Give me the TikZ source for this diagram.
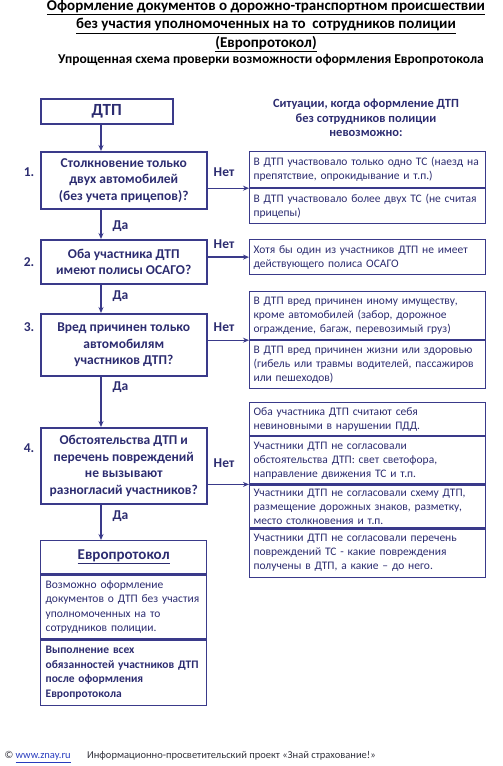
\documentclass[tikz,border=0pt]{standalone}
\usepackage{fontspec}
\setmainfont{Carlito}
\usetikzlibrary{arrows.meta}

\definecolor{navy}{RGB}{44,44,112}
\definecolor{boxline}{RGB}{58,58,138}
\definecolor{linkblue}{RGB}{40,60,190}
\definecolor{footgray}{RGB}{50,50,60}

\newcommand{\askfont}{\bfseries\fontsize{13.5}{16.5}\selectfont}
\newcommand{\casefont}{\fontsize{11.5}{14}\selectfont}
\newcommand{\eurofont}{\fontsize{11.5}{14.5}\selectfont}

\begin{document}
\begin{tikzpicture}[x=1pt, y=-1pt]
        \tikzstyle{question}=[draw=boxline, line width=1.5pt, text=navy, anchor=north west, minimum width=166pt, inner sep=2pt, align=center, font=\askfont]
        \tikzstyle{case}=[draw=boxline, line width=1.2pt, text=navy, anchor=north west, minimum width=236pt, text width=228pt, inner xsep=4pt, inner ysep=1pt, align=left, font=\casefont]
        \tikzstyle{euro}=[draw=boxline, line width=1.3pt, text=navy, anchor=north west, minimum width=166pt, text width=156pt, inner xsep=5pt, inner ysep=1pt, align=left, font=\eurofont]
        \tikzstyle{arr}=[boxline, line width=1.4pt, -{Stealth[length=6pt, width=5pt]}]
        \tikzstyle{tag}=[text=navy, font=\askfont]
        \useasboundingbox (0,0) rectangle (503,766);

        % Titles
        \node[font=\bfseries\fontsize{15}{18.5}\selectfont, align=center] (title) at (266,26)
            {\underline{Оформление документов о дорожно-транспортном происшествии}\\
             \underline{без участия уполномоченных на то\ \ сотрудников полиции}\\
             \underline{(Европротокол)}};
        \node[font=\bfseries\fontsize{13.5}{15}\selectfont] (subtitle) at (271,60)
            {Упрощенная схема проверки возможности оформления Европротокола};

        % Left column: checks
        \node[question, minimum width=132pt, minimum height=25pt, font=\bfseries\fontsize{17}{20}\selectfont] (dtp) at (40,98) {ДТП};
        \node[question, minimum height=57pt] (q1) at (40,151) {Столкновение только\\ двух автомобилей\\ (без учета прицепов)?};
        \node[question, minimum height=44pt] (q2) at (40,239) {Оба участника ДТП\\ имеют полисы ОСАГО?};
        \node[question, minimum height=62pt] (q3) at (40,313) {Вред причинен только\\ автомобилям\\ участников ДТП?};
        \node[question, minimum height=76pt] (q4) at (40,427) {Обстоятельства ДТП и\\ перечень повреждений\\ не вызывают\\ разногласий участников?};

        % Europrotocol
        \node[euro, minimum height=33pt, align=center, font=\bfseries\fontsize{15}{17}\selectfont] (euH) at (40,540) {\underline{Европротокол}};
        \node[euro, minimum height=64pt] (euA) at (euH.south west) {Возможно оформление\\ документов о ДТП без участия\\ уполномоченных на то\\ сотрудников полиции.};
        \node[euro, minimum height=65pt, font=\bfseries\eurofont] (euB) at (euA.south west) {Выполнение всех\\ обязанностей участников ДТП\\ после оформления\\ Европротокола};

        % Right column: cases
        \node[text=navy, align=center, font=\bfseries\fontsize{12.5}{14.5}\selectfont] (sitHead) at (366,118)
            {Ситуации, когда оформление ДТП\\ без сотрудников полиции\\ невозможно:};
        \node[case, minimum height=36pt] (g1a) at (249,151) {В ДТП участвовало только одно ТС (наезд на\\ препятствие, опрокидывание и т.п.)};
        \node[case, minimum height=35pt] (g1b) at (g1a.south west) {В ДТП участвовало более двух ТС (не считая\\ прицепы)};
        \node[case, minimum height=35pt] (g2) at (249,239) {Хотя бы один из участников ДТП не имеет\\ действующего полиса ОСАГО};
        \node[case, minimum height=48pt] (g3a) at (249,291) {В ДТП вред причинен иному имуществу,\\ кроме автомобилей (забор, дорожное\\ ограждение, багаж, перевозимый груз)};
        \node[case, minimum height=48pt] (g3b) at (g3a.south west) {В ДТП вред причинен жизни или здоровью\\ (гибель или травмы водителей, пассажиров\\ или пешеходов)};
        \node[case, minimum height=33pt] (g4a) at (249,402) {Оба участника ДТП считают себя\\ невиновными в нарушении ПДД.};
        \node[case, minimum height=47pt] (g4b) at (g4a.south west) {Участники ДТП не согласовали\\ обстоятельства ДТП: свет светофора,\\ направление движения ТС и т.п.};
        \node[case, minimum height=43pt] (g4c) at (g4b.south west) {Участники ДТП не согласовали схему ДТП,\\ размещение дорожных знаков, разметку,\\ место столкновения и т.п.};
        \node[case, minimum height=48pt] (g4d) at (g4c.south west) {Участники ДТП не согласовали перечень\\ повреждений ТС - какие повреждения\\ получены в ДТП, а какие -- до него.};

        % Connectors
        \coordinate (spine) at (101,0);
        \draw[arr] (dtp.south -| spine) -- (q1.north -| spine);
        \draw[arr] (q1.south -| spine) -- (q2.north -| spine);
        \draw[arr] (q2.south -| spine) -- (q3.north -| spine);
        \draw[arr] (q3.south -| spine) -- (q4.north -| spine);
        \draw[arr] (q4.south -| spine) -- (euH.north -| spine);
        \draw[arr] (q1.east |- g1a.south west) -- (g1a.south west);
        \draw[arr] (q2.east |- g2.west) -- (g2.west);
        \draw[arr] (q3.east |- g3a.south west) -- (g3a.south west);
        \draw[arr] (q4.east |- g4b.south west) -- (g4b.south west);

        % Step numbers and answers
        \node[tag] (num1) at (29,172) {1.};
        \node[tag] (num2) at (29,262) {2.};
        \node[tag] (num3) at (29,327) {3.};
        \node[tag] (num4) at (29,448) {4.};
        \node[tag] (net1) at (224,172) {Нет};
        \node[tag] (net2) at (224,244) {Нет};
        \node[tag] (net3) at (224,327) {Нет};
        \node[tag] (net4) at (224,463) {Нет};
        \node[tag, anchor=west] (da1) at (109,226) {Да};
        \node[tag, anchor=west] (da2) at (109,296) {Да};
        \node[tag, anchor=west] (da3) at (109,387) {Да};
        \node[tag, anchor=west] (da4) at (109,516) {Да};

        % Footer
        \node[anchor=west, text=footgray, font=\fontsize{10.5}{12}\selectfont] (footer) at (1,757)
            {© \textcolor{linkblue}{\underline{www.znay.ru}}\hspace{14pt} Информационно-просветительский проект «Знай страхование!»};
\end{tikzpicture}
\end{document}
